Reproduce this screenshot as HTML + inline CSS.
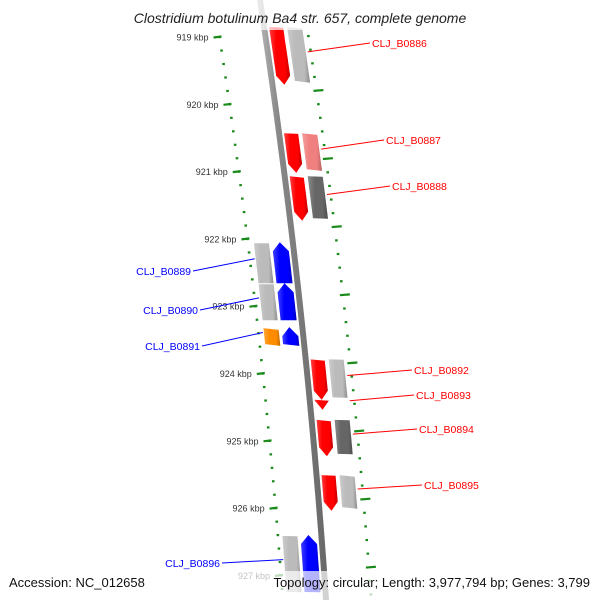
<!DOCTYPE html>
<html><head><meta charset="utf-8"><style>
html,body{margin:0;padding:0;background:#fff;width:600px;height:600px;overflow:hidden}
svg{font-family:"Liberation Sans","DejaVu Sans",sans-serif}
</style></head><body>
<svg id="map" width="600" height="600" viewBox="0 0 600 600">
<defs>
<linearGradient id="gb" x1="0" x2="1" y1="0" y2="0"><stop offset="0" stop-color="#bbb"/><stop offset="0.3" stop-color="#888"/><stop offset="1" stop-color="#666"/></linearGradient>
<linearGradient id="shade" x1="0" x2="1" y1="0" y2="0"><stop offset="0" stop-color="#fff" stop-opacity="0.25"/><stop offset="0.35" stop-color="#fff" stop-opacity="0"/><stop offset="0.75" stop-color="#000" stop-opacity="0"/><stop offset="1" stop-color="#000" stop-opacity="0.25"/></linearGradient>
</defs>
<g id="ticks"></g>
<g id="backbone"></g>
<g id="genes"></g>
<g id="labels"></g>
<rect x="0" y="0" width="600" height="30" fill="#fff" opacity="0.7"/>
<rect x="0" y="571" width="600" height="29" fill="#fff" opacity="0.7"/>
<text x="300" y="23" text-anchor="middle" font-size="14" font-style="italic" fill="#222">Clostridium botulinum Ba4 str. 657, complete genome</text>
<text x="9" y="587" font-size="13" fill="#111">Accession: NC_012658</text>
<text x="590" y="587" text-anchor="end" font-size="13" fill="#111">Topology: circular; Length: 3,977,794 bp; Genes: 3,799</text>
</svg>
<script>
const geneNames=["CLJ_B0886","CLJ_B0887","CLJ_B0888","CLJ_B0889","CLJ_B0890","CLJ_B0891","CLJ_B0892","CLJ_B0893","CLJ_B0894","CLJ_B0895","CLJ_B0896"];
const geneStart=[918.85,920.43,921.07,922.05,922.66,923.31,923.79,924.39,924.69,925.51,926.40];
const geneEnd=[919.71,921.02,921.73,922.66,923.21,923.59,924.39,924.54,925.23,926.04,927.25];
const geneStrand=[-1,-1,-1,1,1,1,-1,-1,-1,-1,1];
const outerColor=["#bbbbbb","#f08080","#666666","#bbbbbb","#bbbbbb","#ff8c00","#bbbbbb",null,"#666666","#bbbbbb","#bbbbbb"];
const tickKbp=[919,920,921,922,923,924,925,926,927];
const tickLabels=["919 kbp","920 kbp","921 kbp","922 kbp","923 kbp","924 kbp","925 kbp","926 kbp","927 kbp"];
const labelPos=[[372,47],[386,144],[392,190],[191,275],[198,314],[200,350],[414,374],[416,399],[419,433],[424,489],[220,567]];

const NS="http://www.w3.org/2000/svg";
function yOf(k){return 37+(k-919)*67.3;}
function bx(y){return 259.98+0.15275*y-7.11e-5*y*y;}
function mk(tag,attrs,parent){const e=document.createElementNS(NS,tag);for(const k in attrs)e.setAttribute(k,attrs[k]);parent.appendChild(e);return e;}
const gT=document.getElementById('ticks'),gB=document.getElementById('backbone'),gG=document.getElementById('genes'),gL=document.getElementById('labels');
// backbone
let pts=[];for(let y=-5;y<=605;y+=5)pts.push([bx(y)-3,y]);for(let y=605;y>=-5;y-=5)pts.push([bx(y)+3,y]);
const bb=mk('polygon',{points:pts.map(p=>p.join(',')).join(' '),fill:'url(#gb)'},gB);


// left ruler
function ld(y){return 46-0.005*(y-37);}
for(let i=0;i<=45;i++){const y=yOf(919)+i*67.3/5;if(y>600)break;const x=bx(y)-ld(y);
 const d=mk('rect',{x:x-1.3,y:y-1,width:2.6,height:2.2,fill:'#1a8a1a'},gT);
 
 }
tickKbp.forEach((k,i)=>{const y=yOf(k);const x=bx(y)-ld(y)-2;
 const t=mk('line',{x1:x-4,y1:y+0.5,x2:x+4,y2:y-0.5,stroke:'#1a8a1a','stroke-width':2.2},gT);
 
 
 const l=mk('text',{x:x-9,y:y+3.5,'text-anchor':'end','font-size':9,fill:'#333'},gT);l.textContent=tickLabels[i];
 
 });
// right ruler
function rd(y){return 43+0.004*(y-36);}
for(let i=0;i<45;i++){const y=36+i*13.62;if(y>600)break;const x=bx(y)+rd(y);
 if(i%5===4){const t=mk('line',{x1:x-3,y1:y+0.4,x2:x+7,y2:y-0.4,stroke:'#1a8a1a','stroke-width':2.2},gT);
  
  }
 else{const d=mk('rect',{x:x-1.3,y:y-1,width:2.6,height:2.2,fill:'#1a8a1a'},gT);
  
  }}
// genes
function band(y1,y2,o1,o2,color,name,arrow){
 const g=mk('g',{},gG);
 
 
 const head=arrow?Math.min(9,(y2-y1)):0;let p=[];
 const a=arrow===-1?y1:y1+head, b=arrow===-1?y2-head:y2;
 for(let y=a;y<=b;y+=2)p.push([bx(y)+o1,y]);
 if(arrow===-1){p.push([bx(b)+o1,b]);p.push([bx(y2)+(o1+o2)/2,y2]);}
 p.push([bx(b)+o2,b]);
 for(let y=b;y>=a;y-=2)p.push([bx(y)+o2,y]);
 if(arrow===1){p.push([bx(a)+o2,a]);p.push([bx(y1)+(o1+o2)/2,y1]);}
 p.push([bx(a)+o1,a]);
 const s=p.map(q=>q[0].toFixed(1)+','+q[1].toFixed(1)).join(' ');
 mk('polygon',{points:s,fill:color},g);mk('polygon',{points:s,fill:'url(#shade)'},g);}
geneNames.forEach((n,i)=>{
 const y1=yOf(geneStart[i]),y2=yOf(geneEnd[i]),st=geneStrand[i];
 const right=st<0;
 if(right){band(y1,y2,5,19,'#ff0000',n.toLowerCase()+'-cds',-1);
  if(outerColor[i])band(y1,y2-2,23,38,outerColor[i],n.toLowerCase()+'-feature',0);}
 else{band(y1,y2,-21,-5,'#0000ff',n.toLowerCase()+'-cds',1);
  if(outerColor[i])band(y1+1,y2,-39,-24,outerColor[i],n.toLowerCase()+'-feature',0);}
 const lp=labelPos[i],col=right?'#ff0000':'#0000ff';const ym=(y1+y2)/2-4;
 const x0=right?bx(ym)+40:bx(ym)-40;
 const ln=mk('line',{x1:x0,y1:ym,x2:right?lp[0]-2:lp[0]+2,y2:lp[1]-4,stroke:col,'stroke-width':1},gL);
 
 
 const t=mk('text',{x:lp[0],y:lp[1],'text-anchor':right?'start':'end','font-size':10.5,fill:col},gL);t.textContent=n;
 
 
});
</script>
</body></html>
